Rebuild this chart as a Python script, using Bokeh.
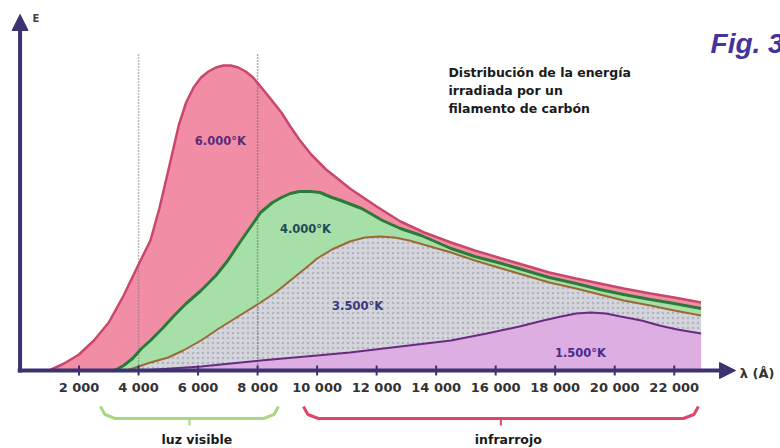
from bokeh.plotting import figure
from bokeh.models import Range1d, Arrow, NormalHead
from bokeh.core.properties import value
from bokeh.embed import file_html
from bokeh.resources import INLINE

# wavelength (Angstrom) and relative radiated energy
lam_6000 = [1000, 1500, 2000, 2500, 3000, 3500, 4000, 4400, 4700, 5000, 5350, 5600, 5850, 6100, 6350, 6600,
            6850, 7100, 7350, 7600, 7850, 8100, 8400, 8800, 9100, 9400, 9800, 10300, 10600, 11100, 12000,
            12800, 13600, 14500, 15300, 16200, 17000, 17800, 18700, 19500, 20300, 21200, 22000, 22900]
E_6000 = [0, 7, 16, 30, 48, 75, 106, 130, 162, 200, 245, 268, 283, 293, 299, 303,
          305, 305, 303, 299, 293, 284, 273, 258, 244, 231, 216, 201, 194, 182, 164,
          149, 138, 128, 120, 112, 105, 98, 92, 87, 82, 77, 73, 68]

lam_4000 = [3200, 3500, 3800, 4100, 4400, 4800, 5200, 5600, 6100, 6600, 7000, 7400, 7800, 8100, 8500, 8800,
            9100, 9400, 9800, 10100, 10500, 10800, 11500, 12200, 12800, 13500, 14500, 15300, 16200, 17000,
            17800, 18700, 19500, 20300, 21200, 22000, 22900]
E_4000 = [0, 5, 12, 22, 30, 42, 55, 67, 80, 95, 110, 128, 145, 158, 168, 173,
          177, 179, 179, 178, 173, 170, 162, 150, 142, 135, 122, 114, 107, 100,
          93, 87, 81, 76, 71, 67, 62]

lam_3500 = [3600, 4400, 5000, 5500, 6100, 6700, 7400, 8100, 8600, 9100, 9600, 10000, 10500, 11100, 11600,
            12100, 12600, 13100, 13800, 14500, 15300, 16200, 17000, 17800, 18700, 19500, 20300, 21200,
            22000, 22900]
E_3500 = [0, 8, 13, 20, 30, 42, 55, 68, 78, 90, 102, 112, 121, 129, 133,
          134, 133, 130, 124, 118, 110, 102, 95, 88, 82, 76, 70, 65,
          60, 55]

lam_1500 = [4100, 6100, 8100, 10000, 11100, 12800, 14500, 15700, 16800, 17600, 18200, 18700, 19200, 19700,
            20200, 20900, 21500, 22100, 22900]
E_1500 = [0, 4, 10, 15, 18, 24, 30, 37, 44, 50, 54, 57, 58, 57,
          54, 50, 45, 41, 37]

tick_vals = [2000, 4000, 6000, 8000, 10000, 12000, 14000, 16000, 18000, 20000, 22000]
tick_labels = ["2 000", "4 000", "6 000", "8 000", "10 000", "12 000", "14 000", "16 000", "18 000",
               "20 000", "22 000"]

visible_range = [2720, 8700]
infrared_range = [9540, 22810]
dotted_marks = [4000, 8000]

title_lines = ["Distribución de la energía", "irradiada por un", "filamento de carbón"]

AXIS = "#3b3270"
FONT = value("DejaVu Sans")

p = figure(width=780, height=448, output_backend="svg", toolbar_location=None,
           x_range=Range1d(-638, 25570), y_range=Range1d(-78, 370), min_border=0,
           x_axis_location=None, y_axis_location=None)
p.grid.visible = False
p.outline_line_color = None
p.background_fill_color = "white"
p.border_fill_color = "white"

# filled areas
p.varea(x=lam_6000, y1=0, y2=E_6000, fill_color="#f28da6")
p.varea(x=lam_4000, y1=0, y2=E_4000, fill_color="#a6e0a8")
p.varea(x=lam_3500, y1=0, y2=E_3500, fill_color="#d5d5dc",
        hatch_pattern="dot", hatch_color="#9a9aae", hatch_alpha=0.6, hatch_scale=5, hatch_weight=1)
p.varea(x=lam_1500, y1=0, y2=E_1500, fill_color="#dcaee2")

# dotted guides at 4000 and 8000
for xv, col in zip(dotted_marks, ["#7a7a7a", "#4f6a50"]):
    p.line(x=[xv, xv], y=[0, 317], line_color=col, line_width=1.5, line_dash="1 2")

# curve outlines
p.line(x=lam_6000, y=E_6000, line_color="#c9476c", line_width=2.5)
p.line(x=lam_4000, y=E_4000, line_color="#2b7a3a", line_width=3)
p.line(x=lam_3500, y=E_3500, line_color="#9a6a34", line_width=2)
p.line(x=lam_1500, y=E_1500, line_color="#6a2a82", line_width=2)

# axes with arrows
p.add_layout(Arrow(end=NormalHead(size=16, fill_color=AXIS, line_color=AXIS),
                   x_start=-60, y_start=0, x_end=24060, y_end=0, line_color=AXIS, line_width=4))
p.add_layout(Arrow(end=NormalHead(size=16, fill_color=AXIS, line_color=AXIS),
                   x_start=20, y_start=-2, x_end=20, y_end=356, line_color=AXIS, line_width=4))

# tick marks and labels
p.segment(x0=tick_vals, y0=[-5] * len(tick_vals), x1=tick_vals, y1=[5] * len(tick_vals),
          line_color=AXIS, line_width=2)
p.text(x=tick_vals, y=[-17] * len(tick_vals), text=tick_labels, text_font=FONT, text_font_style="bold",
       text_font_size="13px", text_color="#333333", text_align="center", text_baseline="middle")

p.text(x=[437], y=[352], text=["E"], text_font=FONT, text_font_style="bold", text_font_size="10px",
       text_color="#444444", text_align="left", text_baseline="middle")
p.text(x=[24200], y=[-3], text=["λ (Å)"], text_font=FONT, text_font_style="bold", text_font_size="13px",
       text_color="#333333", text_align="left", text_baseline="middle")

# curve labels
p.text(x=[6750], y=[230], text=["6.000°K"], text_font=FONT, text_font_style="bold", text_font_size="11.5px",
       text_color="#5a2a7a", text_align="center", text_baseline="middle")
p.text(x=[9610], y=[142], text=["4.000°K"], text_font=FONT, text_font_style="bold", text_font_size="11.5px",
       text_color="#1f4a5a", text_align="center", text_baseline="middle")
p.text(x=[11360], y=[65], text=["3.500°K"], text_font=FONT, text_font_style="bold", text_font_size="11.5px",
       text_color="#3a3a7a", text_align="center", text_baseline="middle")
p.text(x=[18850], y=[18], text=["1.500°K"], text_font=FONT, text_font_style="bold", text_font_size="11.5px",
       text_color="#4a2a8a", text_align="center", text_baseline="middle")

# title block
p.text(x=[14414] * 3, y=[298, 280, 262], text=title_lines, text_font=FONT, text_font_style="bold",
       text_font_size="12.5px", text_color="#1a1a1a", text_align="left", text_baseline="middle")

p.text(x=[23220], y=[327], text=["Fig. 3"], text_font=value("Liberation Sans"),
       text_font_style="bold italic", text_font_size="28px", text_color="#46329a",
       text_align="left", text_baseline="alphabetic")

# brackets
def bracket(rng, color, label):
    x0, x1 = rng
    mid = (x0 + x1) / 2
    p.line(x=[x0, x0 + 150, x0 + 500, x1 - 500, x1 - 150, x1],
           y=[-36, -44, -48, -48, -44, -36], line_color=color, line_width=3)
    p.line(x=[mid, mid], y=[-48, -55], line_color=color, line_width=2)
    p.text(x=[mid + 250], y=[-69], text=[label], text_font=FONT, text_font_style="bold",
           text_font_size="12.5px", text_color="#1a1a1a", text_align="center", text_baseline="middle")

bracket(visible_range, "#a9d97e", "luz visible")
bracket(infrared_range, "#e0466a", "infrarrojo")

open("out.html", "w").write(file_html(p, INLINE))
